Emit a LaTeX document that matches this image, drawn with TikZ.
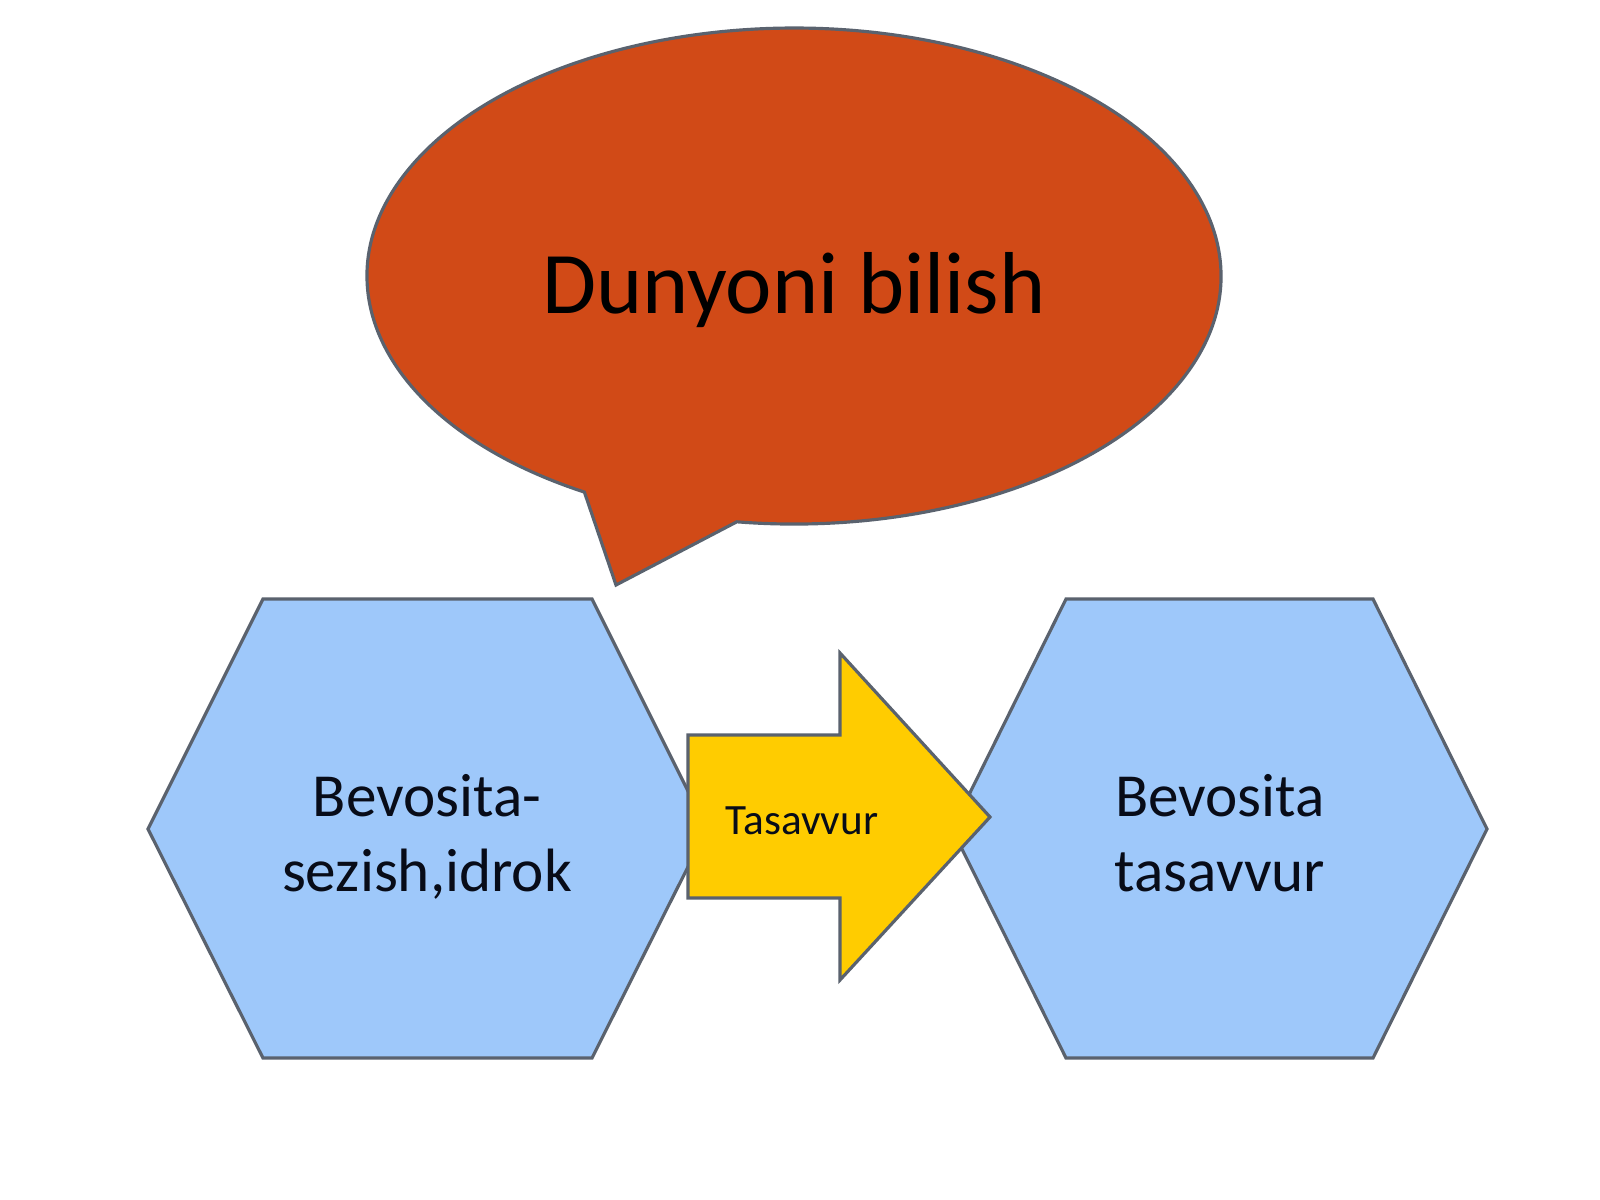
\documentclass[tikz,border=0pt]{standalone}
\usepackage{fontspec}
\setmainfont{Carlito}
\definecolor{bubblefill}{RGB}{209,74,23}
\definecolor{hexfill}{RGB}{158,200,250}
\definecolor{arrowfill}{RGB}{255,204,0}
\definecolor{edgegray}{RGB}{90,98,110}
\definecolor{inktext}{RGB}{8,12,24}
\tikzset{
  shapeline/.style={draw=edgegray, line width=0.9pt, line join=miter},
  bigtext/.style={anchor=base, inner sep=0pt, text=black, font=\fontsize{25}{30}\selectfont},
  hextext/.style={anchor=base, inner sep=0pt, text=inktext, font=\fontsize{17.4}{21}\selectfont},
  arrowtext/.style={anchor=base, inner sep=0pt, text=inktext, font=\fontsize{12.3}{15}\selectfont}
}
\begin{document}
\begin{tikzpicture}[x=0.01cm, y=-0.01cm]
\useasboundingbox[fill=white] (0,0) rectangle (1600,1200);
% speech bubble
\coordinate (bl) at (584.4,492.1);
\coordinate (btip) at (616,585);
\draw[shapeline, fill=bubblefill] (bl) arc[start angle=119.4, end angle=457.7, x radius=427, y radius=248] -- (btip) -- cycle;
\node[bigtext] (title) at (794,313) {Dunyoni bilish};
% left hexagon
\coordinate (lh1) at (148,829);
\coordinate (lh2) at (263,599);
\coordinate (lh3) at (592,599);
\coordinate (lh4) at (707,829);
\coordinate (lh5) at (592,1058);
\coordinate (lh6) at (263,1058);
\draw[shapeline, fill=hexfill] (lh1) -- (lh2) -- (lh3) -- (lh4) -- (lh5) -- (lh6) -- cycle;
\node[hextext] (l1) at (427,816) {Bevosita-};
\node[hextext] (l2) at (427,891) {sezish,idrok};
% right hexagon
\coordinate (rh1) at (952,829);
\coordinate (rh2) at (1066,599);
\coordinate (rh3) at (1373,599);
\coordinate (rh4) at (1487,829);
\coordinate (rh5) at (1373,1058);
\coordinate (rh6) at (1066,1058);
\draw[shapeline, fill=hexfill] (rh1) -- (rh2) -- (rh3) -- (rh4) -- (rh5) -- (rh6) -- cycle;
\node[hextext] (r1) at (1220,816) {Bevosita};
\node[hextext] (r2) at (1220,891) {tasavvur};
% block arrow
\coordinate (a1) at (688,735);
\coordinate (a2) at (840,735);
\coordinate (a3) at (840,653);
\coordinate (a4) at (990,817);
\coordinate (a5) at (840,980);
\coordinate (a6) at (840,898);
\coordinate (a7) at (688,898);
\draw[shapeline, fill=arrowfill] (a1) -- (a2) -- (a3) -- (a4) -- (a5) -- (a6) -- (a7) -- cycle;
\node[arrowtext] (arr) at (802,834) {Tasavvur};
\end{tikzpicture}
\end{document}
